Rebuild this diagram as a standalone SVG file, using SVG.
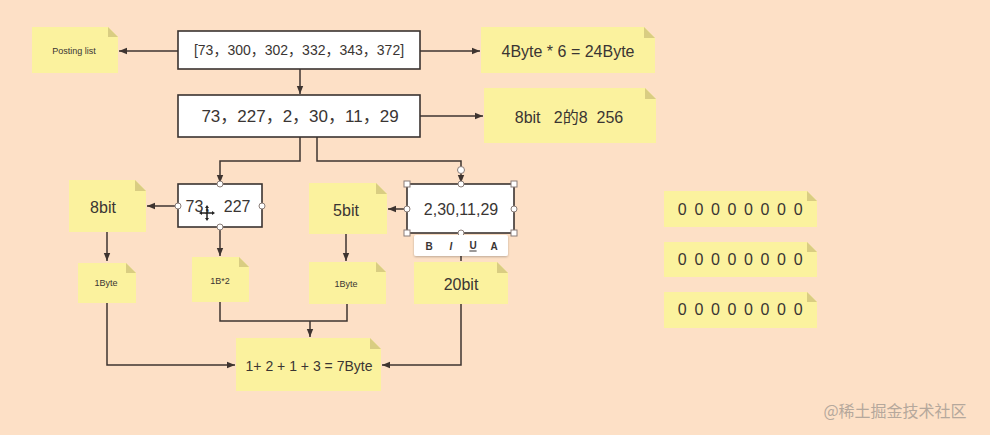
<svg xmlns="http://www.w3.org/2000/svg" width="990" height="435" viewBox="0 0 990 435">
<defs>
<style>
.bg{fill:#fde0c6}
.note{fill:#fbf29e}
.fold{fill:#d9cd82}
.box{fill:#ffffff;stroke:#3a3330;stroke-width:1.6}
.t{font-family:"Liberation Sans","Noto Sans CJK SC",sans-serif;fill:#3a3533;text-anchor:middle;dominant-baseline:central;white-space:pre}
.ln{fill:none;stroke:#3e3430;stroke-width:1.5}
.h{fill:#fff;stroke:#8a7d78;stroke-width:1}
.bits{letter-spacing:1.6px}
</style>
<marker id="ah" viewBox="0 0 10 10" refX="10" refY="5" markerWidth="8" markerHeight="8" markerUnits="userSpaceOnUse" orient="auto">
<path d="M0,1 L10,5 L0,9 Z" fill="#3e3430"/>
</marker>
<filter id="sh" x="-10%" y="-30%" width="120%" height="160%"><feDropShadow dx="0" dy="1" stdDeviation="1.2" flood-color="#000" flood-opacity="0.25"/></filter>
</defs>
<rect class="bg" x="0" y="0" width="990" height="435"/>

<g id="connectors">
<path class="ln" d="M178,51 H119" marker-end="url(#ah)"/>
<path class="ln" d="M420,51 H480" marker-end="url(#ah)"/>
<path class="ln" d="M300,69 V94" marker-end="url(#ah)"/>
<path class="ln" d="M420,116 H483" marker-end="url(#ah)"/>
<path class="ln" d="M300,137 V161 H220 V183" marker-end="url(#ah)"/>
<path class="ln" d="M317,137 V161 H461 V183" marker-end="url(#ah)"/>
<path class="ln" d="M178,206 H147" marker-end="url(#ah)"/>
<path class="ln" d="M107,232 V261" marker-end="url(#ah)"/>
<path class="ln" d="M220,227 V256" marker-end="url(#ah)"/>
<path class="ln" d="M407,209 H388" marker-end="url(#ah)"/>
<path class="ln" d="M346,234 V261" marker-end="url(#ah)"/>
<path class="ln" d="M461,256 V261"/>
<path class="ln" d="M220,302 V321 H347 V304"/>
<path class="ln" d="M310,321 V337" marker-end="url(#ah)"/>
<path class="ln" d="M107,303 V365 H235" marker-end="url(#ah)"/>
<path class="ln" d="M461,304 V365 H382" marker-end="url(#ah)"/>
</g>

<g id="posting-list">
<path class="note" d="M32,27 H108 L118,37 V73 H32 Z"/><path class="fold" d="M108,27 L118,37 H108 Z"/>
<text class="t" x="74" y="51" font-size="9">Posting list</text>
</g>
<g id="box1">
<rect class="box" x="178" y="31" width="242" height="38"/>
<text class="t" x="299" y="50" font-size="14" fill="#444">[73，300，302，332，343，372]</text>
</g>
<g id="note-24byte">
<path class="note" d="M481,27 H644 L655,38 V73 H481 Z"/><path class="fold" d="M644,27 L655,38 H644 Z"/>
<text class="t" x="568" y="51" font-size="16">4Byte * 6 = 24Byte</text>
</g>
<g id="box2">
<rect class="box" x="178" y="95" width="242" height="42"/>
<text class="t" x="300" y="116" font-size="17">73，227，2，30，11，29</text>
</g>
<g id="note-8bit-256">
<path class="note" d="M484,88 H645 L656,99 V143 H484 Z"/><path class="fold" d="M645,88 L656,99 H645 Z"/>
<text class="t" x="569" y="117" font-size="16" xml:space="preserve">8bit   2的8  256</text>
</g>

<g id="box3">
<rect class="box" x="178" y="184" width="84" height="43"/>
<text class="t" x="218" y="206" font-size="16">73， 227</text>
<circle class="h" cx="220" cy="184" r="3"/><circle class="h" cx="178" cy="206" r="3"/><circle class="h" cx="262" cy="206" r="3"/><circle class="h" cx="220" cy="227" r="3"/>
<path d="M207,207 V219 M201,213 H213" stroke="#222" stroke-width="1.5"/>
<path d="M207,205 l-2,3 h4 Z M207,221 l-2,-3 h4 Z M199,213 l3,-2 v4 Z M215,213 l-3,-2 v4 Z" fill="#222"/>
</g>
<g id="note-8bit">
<path class="note" d="M69,180 H135 L146,191 V232 H69 Z"/><path class="fold" d="M135,180 L146,191 H135 Z"/>
<text class="t" x="103" y="207" font-size="16">8bit</text>
</g>
<g id="note-1byte-a">
<path class="note" d="M78,263 H126 L136,273 V303 H78 Z"/><path class="fold" d="M126,263 L136,273 H126 Z"/>
<text class="t" x="106" y="283" font-size="9">1Byte</text>
</g>
<g id="note-1b2">
<path class="note" d="M192,257 H239 L249,267 V302 H192 Z"/><path class="fold" d="M239,257 L249,267 H239 Z"/>
<text class="t" x="220" y="281" font-size="9">1B*2</text>
</g>
<g id="note-5bit">
<path class="note" d="M309,183 H376 L387,194 V234 H309 Z"/><path class="fold" d="M376,183 L387,194 H376 Z"/>
<text class="t" x="346" y="210" font-size="16">5bit</text>
</g>
<g id="box4">
<rect class="box" x="407" y="184" width="107" height="49"/>
<text class="t" x="461" y="209" font-size="16">2,30,11,29</text>
<circle class="h" cx="461" cy="170" r="3.5"/>
<circle class="h" cx="461" cy="184" r="3"/><circle class="h" cx="407" cy="209" r="3"/><circle class="h" cx="514" cy="209" r="3"/><circle class="h" cx="461" cy="233" r="3"/>
<rect class="h" x="404" y="181" width="6" height="6"/><rect class="h" x="511" y="181" width="6" height="6"/><rect class="h" x="404" y="230" width="6" height="6"/><rect class="h" x="511" y="230" width="6" height="6"/>
</g>
<g id="toolbar">
<rect x="414" y="235" width="94" height="21" rx="2" fill="#fff" filter="url(#sh)"/>
<text class="t" x="429" y="246" font-size="10" font-weight="bold" fill="#222">B</text>
<text class="t" x="451" y="246" font-size="10" font-weight="bold" font-style="italic" fill="#222">I</text>
<text class="t" x="473" y="245" font-size="10" font-weight="bold" fill="#222" text-decoration="underline">U</text>
<text class="t" x="494" y="246" font-size="10" font-weight="bold" fill="#222">A</text>
</g>
<g id="note-1byte-b">
<path class="note" d="M309,262 H376 L386,272 V304 H309 Z"/><path class="fold" d="M376,262 L386,272 H376 Z"/>
<text class="t" x="346" y="284" font-size="9">1Byte</text>
</g>
<g id="note-20bit">
<path class="note" d="M414,262 H497 L508,273 V304 H414 Z"/><path class="fold" d="M497,262 L508,273 H497 Z"/>
<text class="t" x="461" y="284" font-size="16">20bit</text>
</g>
<g id="note-result">
<path class="note" d="M236,338 H370 L381,349 V391 H236 Z"/><path class="fold" d="M370,338 L381,349 H370 Z"/>
<text class="t" x="309" y="366" font-size="14">1+ 2 + 1 + 3 = 7Byte</text>
</g>

<g id="bits-1">
<path class="note" d="M664,191 H807 L817,201 V227 H664 Z"/><path class="fold" d="M807,191 L817,201 H807 Z"/>
<text class="t bits" x="741" y="209" font-size="16">0 0 0 0 0 0 0 0</text>
</g>
<g id="bits-2">
<path class="note" d="M664,242 H807 L817,252 V277 H664 Z"/><path class="fold" d="M807,242 L817,252 H807 Z"/>
<text class="t bits" x="741" y="259" font-size="16">0 0 0 0 0 0 0 0</text>
</g>
<g id="bits-3">
<path class="note" d="M664,292 H807 L817,302 V328 H664 Z"/><path class="fold" d="M807,292 L817,302 H807 Z"/>
<text class="t bits" x="741" y="309" font-size="16">0 0 0 0 0 0 0 0</text>
</g>

<text x="895" y="410" font-family="'Noto Sans CJK SC',sans-serif" font-size="16" fill="#b5a89c" text-anchor="middle" dominant-baseline="central">@稀土掘金技术社区</text>
</svg>
